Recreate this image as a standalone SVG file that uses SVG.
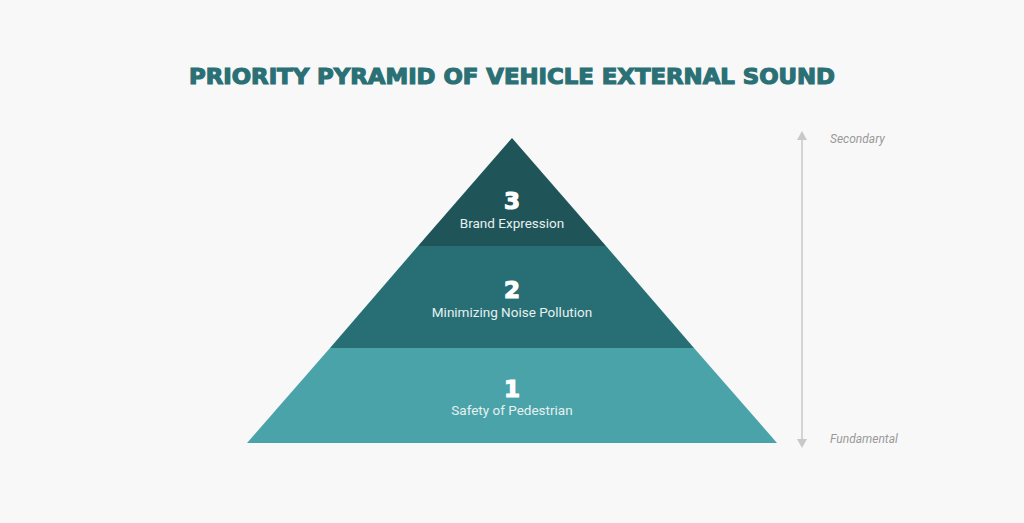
<svg xmlns="http://www.w3.org/2000/svg" width="1024" height="523" viewBox="0 0 1024 523">
<style>
.title{font-family:"DejaVu Sans","Liberation Sans",sans-serif;font-weight:bold;font-size:22px;fill:#2a7075;stroke:#2a7075;stroke-width:1.2px}
.num{font-family:"DejaVu Sans","Liberation Sans",sans-serif;font-weight:bold;font-size:23px;fill:#ffffff;stroke:#ffffff;stroke-width:1.2px;text-anchor:middle}
.lbl{font-family:Roboto,"Liberation Sans",sans-serif;font-size:13.5px;fill:#e6f0f0;text-anchor:middle}
.side{font-family:Roboto,"Liberation Sans",sans-serif;font-style:italic;font-size:12px;fill:#9a9a9a}
</style>
<defs>
<marker id="ah" markerWidth="10" markerHeight="10" refX="5" refY="5" orient="auto-start-reverse" markerUnits="userSpaceOnUse">
<path d="M0,9 L5,0 L10,9 Z" fill="#c8c8c8" transform="rotate(90 5 5)"/>
</marker>
</defs>
<rect width="1024" height="523" fill="#f8f8f8"/>
<text class="title" x="512" y="84" text-anchor="middle" textLength="646" lengthAdjust="spacingAndGlyphs">PRIORITY PYRAMID OF VEHICLE EXTERNAL SOUND</text>
<g id="level1">
<polygon points="330,348 694,348 777,443 247,443" fill="#4aa3a9"/>
<text class="num" x="512" y="397">1</text>
<text class="lbl" x="512" y="415">Safety of Pedestrian</text>
</g>
<g id="level2">
<polygon points="418,246 606,246 694,348 330,348" fill="#276f74"/>
<text class="num" x="512" y="298">2</text>
<text class="lbl" x="512" y="317">Minimizing Noise Pollution</text>
</g>
<g id="level3">
<polygon points="512,138 606,246 418,246" fill="#1f5558"/>
<text class="num" x="512" y="209">3</text>
<text class="lbl" x="512" y="228">Brand Expression</text>
</g>
<g id="connectors">
<line x1="802" y1="136" x2="802" y2="443" stroke="#c8c8c8" stroke-width="1.5" marker-start="url(#ah)" marker-end="url(#ah)"/>
</g>
<g id="axis-labels">
<text class="side" x="830" y="143">Secondary</text>
<text class="side" x="830" y="443">Fundamental</text>
</g>
</svg>
